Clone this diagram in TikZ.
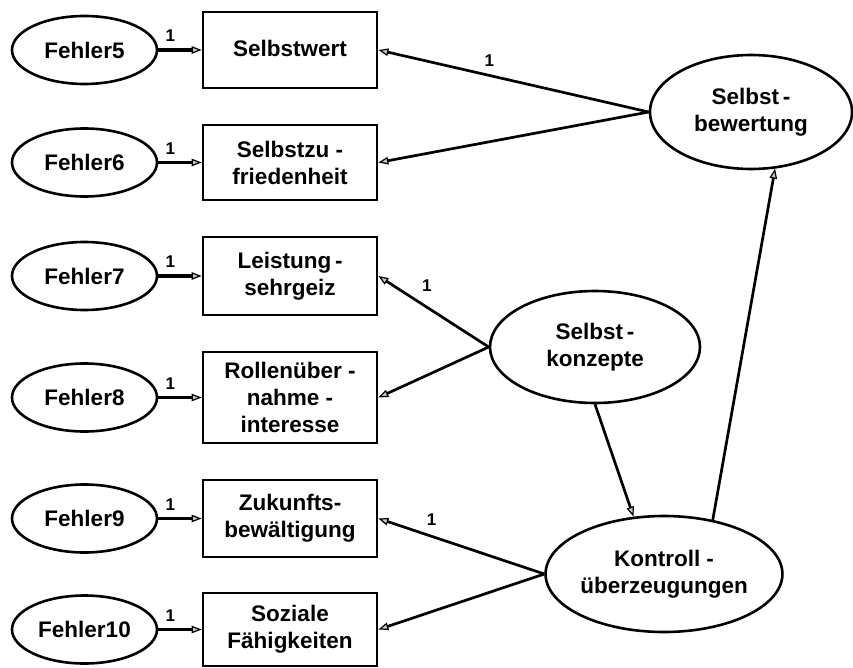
\documentclass[tikz,border=0pt]{standalone}
\usepackage{fontspec}
\setmainfont{Liberation Sans}
\usetikzlibrary{arrows.meta,shapes.geometric}

\begin{document}
\begin{tikzpicture}[x=1pt,y=-1pt,
  every node/.style={font=\bfseries\fontsize{22.5}{27}\selectfont, align=center, inner sep=0pt},
  obs/.style={draw, line width=2.8pt, minimum width=174pt},
  err/.style={draw, ellipse, line width=2.6pt, minimum width=145pt, minimum height=68pt},
  lat/.style={draw, ellipse, line width=2.6pt},
  reg/.style={line width=2.7pt, -{Triangle[length=10pt,width=7.5pt,fill=gray!45,line width=1.2pt]}},
  fixed/.style={reg, line width=3.2pt},
  one/.style={font=\bfseries\fontsize{17}{19}\selectfont},
]
\useasboundingbox (0,0) rectangle (853,668);

% observed indicators
\node[obs, minimum height=76pt] (b5)  at (290,50)    {\raisebox{4pt}{Selbstwert}};
\node[obs, minimum height=75pt] (b6)  at (290,162.5) {Selbstzu -\\friedenheit};
\node[obs, minimum height=78pt] (b7)  at (290,276)   {Leistung\,-\\sehrgeiz};
\node[obs, minimum height=91pt] (b8)  at (290,397.5) {Rollenüber -\\nahme -\\interesse};
\node[obs, minimum height=77pt] (b9)  at (290,518.5) {Zukunfts-\\bewältigung};
\node[obs, minimum height=73pt] (b10) at (290,629.5) {Soziale\\Fähigkeiten};

% error terms
\node[err] (f5)  at (84.5,50)    {Fehler5};
\node[err] (f6)  at (84.5,162.5) {Fehler6};
\node[err] (f7)  at (84.5,276)   {Fehler7};
\node[err] (f8)  at (84.5,397.5) {Fehler8};
\node[err] (f9)  at (84.5,518.5) {Fehler9};
\node[err] (f10) at (84.5,629.5) {Fehler10};

% latent factors
\node[lat, minimum width=202pt, minimum height=114pt] (sb) at (751,112) {Selbst\,-\\bewertung};
\node[lat, minimum width=210pt, minimum height=112pt] (sk) at (595,347) {Selbst\,-\\konzepte};
\node[lat, minimum width=213pt, minimum height=116pt] (ku) at (664,574) {Kontroll -\\überzeugungen};

% error paths
\draw[fixed] (f5)  -- node[one,pos=0.28,yshift=14pt]{1} (b5);
\draw[fixed] (f6)  -- node[one,pos=0.28,yshift=14pt]{1} (b6);
\draw[fixed] (f7)  -- node[one,pos=0.28,yshift=14pt]{1} (b7);
\draw[fixed] (f8)  -- node[one,pos=0.28,yshift=14pt]{1} (b8);
\draw[fixed] (f9)  -- node[one,pos=0.28,yshift=14pt]{1} (b9);
\draw[fixed] (f10) -- node[one,pos=0.28,yshift=14pt]{1} (b10);

% loadings
\draw[reg] (sb.west) -- node[one,pos=0.59,yshift=15pt]{1} (b5.east);
\draw[reg] (sb.west) -- (b6.east);
\draw[reg] (sk.west) -- node[one,pos=0.56,yshift=22pt]{1} (b7.east);
\draw[reg] (sk.west) -- (b8.east);
\draw[reg] (ku.west) -- node[one,pos=0.68,yshift=17pt]{1} (b9.east);
\draw[reg] (ku.west) -- (b10.east);

% structural paths
\draw[reg] (sk.south) -- (ku.118);
\draw[reg] (ku.48) -- (sb.-67);
\end{tikzpicture}
\end{document}
